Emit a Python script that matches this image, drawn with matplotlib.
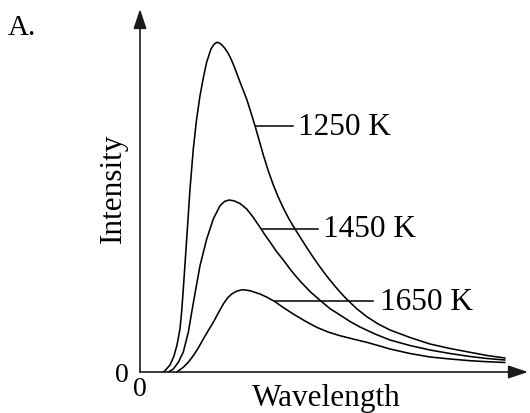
import matplotlib
matplotlib.use('Agg')
import matplotlib.pyplot as plt

plt.rcParams['font.family'] = ['Liberation Serif', 'DejaVu Serif']

# Curves (arbitrary units)
wl_1250 = [0.23, 0.25, 0.30, 0.34, 0.37, 0.40, 0.417, 0.433, 0.467, 0.50, 0.533,
           0.565, 0.60, 0.635, 0.667, 0.71, 0.738, 0.767, 0.793, 0.82, 0.85, 0.88,
           0.91, 0.94, 1.00, 1.07, 1.15, 1.233, 1.28, 1.333, 1.38, 1.433, 1.49,
           1.55, 1.61, 1.667, 1.73, 1.80, 1.865, 1.933, 2.00, 2.067, 2.167, 2.267,
           2.38, 2.50, 2.70, 2.90, 3.10, 3.30, 3.47, 3.65]
int_1250 = [0.0, 0.013, 0.07, 0.16, 0.27, 0.43, 0.61, 0.83, 1.33, 1.83, 2.23,
            2.52, 2.763, 2.95, 3.10, 3.23, 3.275, 3.297, 3.29, 3.27, 3.235, 3.19,
            3.13, 3.06, 2.90, 2.72, 2.463, 2.17, 2.02, 1.87, 1.755, 1.64, 1.53,
            1.43, 1.335, 1.245, 1.15, 1.05, 0.963, 0.878, 0.80, 0.728, 0.633, 0.554,
            0.481, 0.42, 0.345, 0.28, 0.235, 0.197, 0.165, 0.14]

wl_1450 = [0.283, 0.333, 0.385, 0.433, 0.483, 0.533, 0.60, 0.667, 0.733, 0.80,
           0.845, 0.89, 0.94, 1.00, 1.067, 1.13, 1.20, 1.25, 1.30, 1.365, 1.433,
           1.515, 1.60, 1.705, 1.817, 1.905, 2.00, 2.10, 2.20, 2.35, 2.50, 2.70,
           2.90, 3.10, 3.30, 3.47, 3.65]
int_1450 = [0.0, 0.03, 0.10, 0.20, 0.397, 0.69, 1.063, 1.33, 1.53, 1.663,
            1.705, 1.72, 1.712, 1.685, 1.63, 1.55, 1.447, 1.37, 1.30, 1.205, 1.12,
            1.01, 0.91, 0.80, 0.703, 0.63, 0.57, 0.505, 0.45, 0.38, 0.32, 0.265,
            0.22, 0.185, 0.155, 0.135, 0.12]

wl_1650 = [0.367, 0.433, 0.48, 0.533, 0.583, 0.633, 0.683, 0.733, 0.783, 0.833,
           0.875, 0.917, 0.97, 1.027, 1.10, 1.20, 1.275, 1.35, 1.44, 1.533, 1.65,
           1.767, 1.88, 2.00, 2.13, 2.267, 2.38, 2.50, 2.70, 2.90, 3.10, 3.30,
           3.47, 3.65]
int_1650 = [0.0, 0.047, 0.095, 0.163, 0.24, 0.33, 0.415, 0.497, 0.59, 0.68,
            0.74, 0.78, 0.81, 0.823, 0.813, 0.78, 0.745, 0.703, 0.64, 0.58, 0.51,
            0.447, 0.40, 0.363, 0.33, 0.297, 0.265, 0.23, 0.185, 0.15, 0.13, 0.113,
            0.103, 0.095]

labels = ['1250 K', '1450 K', '1650 K']

# leader lines and label placement
lead_y = [2.463, 1.43, 0.707]
lead_x0 = [1.16, 1.217, 1.35]
lead_x1 = [1.527, 1.783, 2.333]
text_x = [1.575, 1.833, 2.40]
text_y = [2.38, 1.357, 0.63]

fig = plt.figure(figsize=(5.3, 4.14), dpi=100)
ax = fig.add_axes([140 / 530, 41 / 414, 388 / 530, 363 / 414])
ax.set_xlim(0, 3.88)
ax.set_ylim(0, 3.63)

for x, y in [(wl_1250, int_1250), (wl_1450, int_1450), (wl_1650, int_1650)]:
    ax.plot(x, y, color='black', lw=1.15, solid_joinstyle='round',
            solid_capstyle='round', clip_on=False)

for i, lab in enumerate(labels):
    ax.plot([lead_x0[i], lead_x1[i]], [lead_y[i], lead_y[i]], color='black', lw=1.1)
    ax.text(text_x[i], text_y[i], lab, fontsize=22.5, ha='left', va='baseline')

# axes drawn as arrows
for s in ax.spines.values():
    s.set_visible(False)
arrow = dict(arrowstyle='-|>,head_length=0.6,head_width=0.2', color='#1a1a1a',
             lw=1.2, mutation_scale=20, shrinkA=0, shrinkB=0)
ax.annotate('', xy=(1, 0), xytext=(0, 0), xycoords='axes fraction',
            textcoords='axes fraction', arrowprops=arrow)
ax.annotate('', xy=(0, 1), xytext=(0, 0), xycoords='axes fraction',
            textcoords='axes fraction', arrowprops=arrow)

ax.set_xticks([0])
ax.set_yticks([0])
ax.set_xticklabels(['0'], fontsize=20)
ax.set_yticklabels(['0'], fontsize=20)
ax.tick_params(axis='x', length=0, pad=3)
ax.tick_params(axis='y', length=0, pad=8)

ax.set_xlabel('Wavelength', fontsize=22.5)
ax.set_ylabel('Intensity', fontsize=22.5)
ax.xaxis.set_label_coords(0.479, -0.03)
ax.yaxis.set_label_coords(-0.031, 0.51)

fig.text(8 / 530, 1 - 35 / 414, 'A.', fontsize=21, ha='left', va='baseline')

fig.savefig('out.png', dpi=100)
